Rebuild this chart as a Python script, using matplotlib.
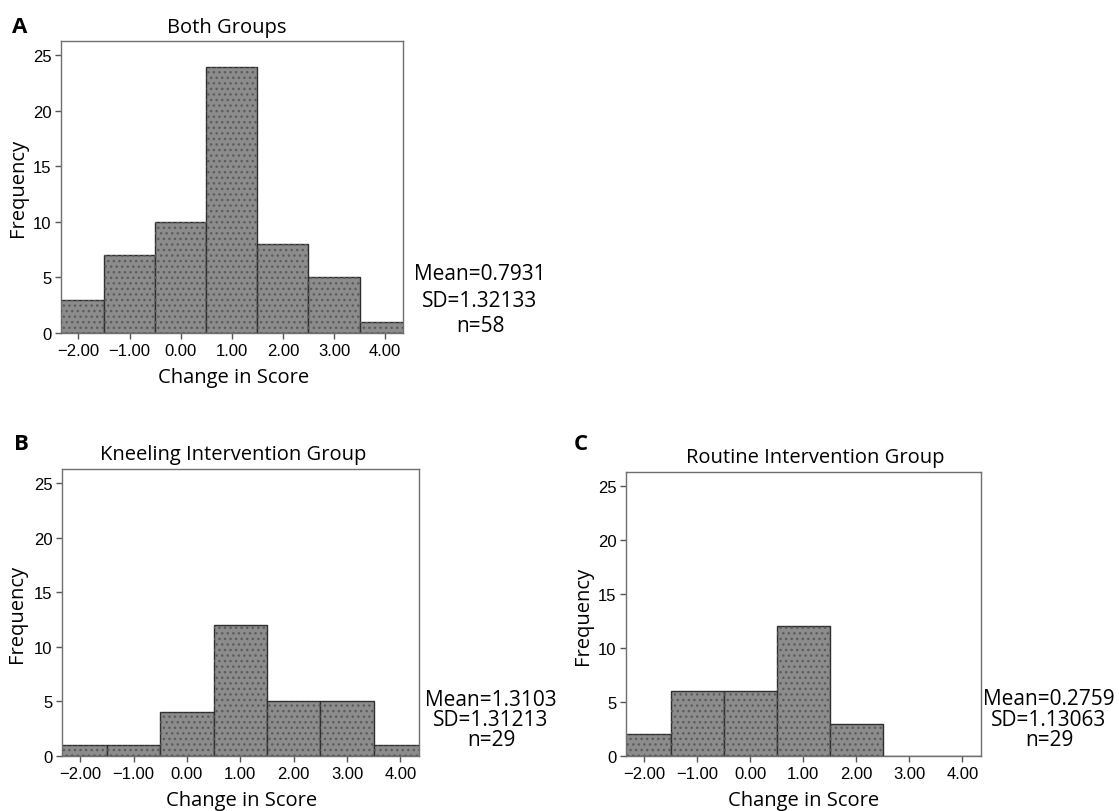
import numpy as np
import matplotlib
matplotlib.use("Agg")
import matplotlib.pyplot as plt
from matplotlib.ticker import FuncFormatter

# histogram bin centres and counts
bins = [-2, -1, 0, 1, 2, 3, 4]
both_counts = [3, 7, 10, 24, 8, 5, 1]
kneeling_counts = [1, 1, 4, 12, 5, 5, 1]
routine_counts = [2, 6, 6, 12, 3, 0, 0]

titles = ["Both Groups", "Kneeling Intervention Group", "Routine Intervention Group"]
panel_letters = ["A", "B", "C"]
stats = [["Mean=0.7931", "SD=1.32133", "n=58"],
         ["Mean=1.3103", "SD=1.31213", "n=29"],
         ["Mean=0.2759", "SD=1.13063", "n=29"]]
yticks = [0, 5, 10, 15, 20, 25]

W, H = 1119, 812
TXT = "Open Sans"
TICKF = "Liberation Sans"

fig = plt.figure(figsize=(W / 100, H / 100), dpi=100)


def px(x, y):
    return x / W, 1 - y / H


def box(l, t, r, b):
    return [l / W, 1 - b / H, (r - l) / W, (b - t) / H]


# axes boxes in pixels: left, top, right, bottom
boxes = [(61, 42, 403, 334), (62, 470, 419, 757), (626, 473, 981, 757)]
data = [both_counts, kneeling_counts, routine_counts]

# text anchor positions (pixels)
letter_pos = [(12, 33), (14, 450), (574, 450)]
title_pos = [(227, 33), (233, 460), (815, 463)]
ylab_pos = [(18, 188), (17, 614), (583, 616)]
xlab_pos = [(234, 383), (242, 806), (804, 806)]
stat_pos = [(480, [280, 307, 332]), (491, [706, 726, 746]), (1049, [705, 726, 746])]

fmt = FuncFormatter(lambda v, p: ("%.2f" % v).replace("-", "\u2212"))

for i in range(3):
    ax = fig.add_axes(box(*boxes[i]))
    counts = data[i]
    ax.bar(bins, counts, width=1.0, color="#8c8c8c", edgecolor="#2e2e2e",
           linewidth=1.0, zorder=2)
    # dotted screen pattern on top of the bars
    ax.bar(bins, counts, width=1.0, facecolor="none", edgecolor="#5c5c5c",
           linewidth=0, hatch="...", zorder=3)
    ax.set_xlim(-2.34, 4.35)
    ax.set_ylim(0, 26.3)
    ax.set_xticks(bins)
    ax.set_yticks(yticks)
    ax.xaxis.set_major_formatter(fmt)
    ax.tick_params(direction="out", length=4, width=1, color="#555555",
                   labelsize=12, pad=3)
    for lab in ax.get_xticklabels() + ax.get_yticklabels():
        lab.set_fontfamily(TICKF)
    for s in ax.spines.values():
        s.set_color("#707070")
        s.set_linewidth(1.0)

    fig.text(*px(*letter_pos[i]), panel_letters[i], family=TXT, fontsize=16,
             fontweight="bold", va="baseline", ha="left")
    fig.text(*px(*title_pos[i]), titles[i], family=TXT, fontsize=14.5,
             va="baseline", ha="center")
    fig.text(*px(*ylab_pos[i]), "Frequency", family=TXT, fontsize=14.5,
             rotation=90, va="center", ha="center")
    fig.text(*px(*xlab_pos[i]), "Change in Score", family=TXT, fontsize=14.5,
             va="baseline", ha="center")
    cx, ys = stat_pos[i]
    for line, y in zip(stats[i], ys):
        fig.text(*px(cx, y), line, family=TXT, fontsize=15, va="baseline",
                 ha="center")

fig.savefig("out.png", dpi=100)
